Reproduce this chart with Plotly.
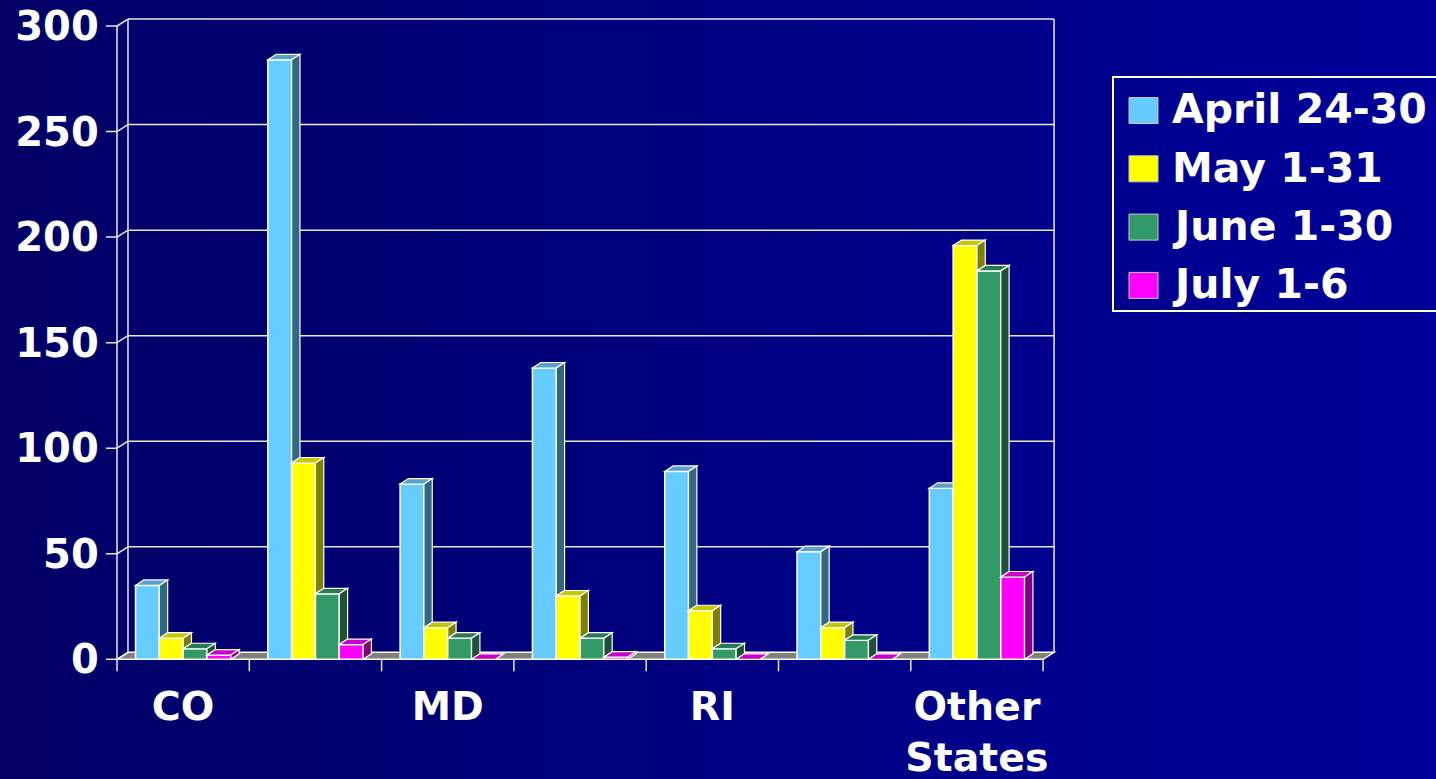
import plotly.graph_objects as go

# ---------------- data ----------------
categories = ["CO", "", "MD", "", "RI", "", "Other States"]
series_names = ["April 24-30", "May 1-31", "June 1-30", "July 1-6"]
april = [35, 284, 83, 138, 89, 51, 81]
may = [10, 93, 15, 30, 23, 15, 196]
june = [5, 31, 10, 10, 5, 9, 184]
july = [2, 7, 0, 1, 0, 0, 39]
y_ticks = [0, 50, 100, 150, 200, 250, 300]

# ---------------- style ----------------
front_colors = ["#66CCFF", "#FFFF00", "#339966", "#FF00FF"]
top_colors = ["#56A2CC", "#C8C800", "#2A7A55", "#C800C8"]
side_colors = ["#336680", "#808000", "#1C5236", "#800080"]
FONT = "DejaVu Sans"

W, H = 1436, 779
series = [april, may, june, july]
n_cat = len(categories)
n_ser = len(series)
x_pos = list(range(n_cat))
BARGAP = 0.28
bw = (1 - BARGAP) / n_ser
DX, DY = 0.063, 2.6      # bar depth (data units)
WX, WY = 0.083, 3.3      # wall / floor depth (data units)
XR = [-0.6, n_cat - 0.5 + 0.12]
YR = [-6.5, 304]
# pixel anchoring of the axes
px0, sx = 117.0, 132.3    # pixel of x=-0.5 and px per category
py0, sy = 659.3, 2.111    # pixel of y=0 and px per unit

xd = [(px0 + (XR[0] + 0.5) * sx) / W, (px0 + (XR[1] + 0.5) * sx) / W]
yd = [1 - (py0 - YR[0] * sy) / H, 1 - (py0 - YR[1] * sy) / H]

fig = go.Figure()
for j in range(n_ser):
    fig.add_trace(go.Bar(
        x=x_pos, y=series[j], name=series_names[j],
        marker=dict(color=front_colors[j], line=dict(color="white", width=1.5)),
        showlegend=False,
    ))

shapes = []
# background gradient
NS = 90
c0, c1 = (0, 0, 0x66), (0, 0, 0x9A)
for k in range(NS):
    t = k / (NS - 1)
    col = "rgb(%d,%d,%d)" % tuple(round(a + (b - a) * t) for a, b in zip(c0, c1))
    shapes.append(dict(type="rect", xref="paper", yref="paper", x0=k / NS, x1=(k + 1.05) / NS,
                       y0=0, y1=1, fillcolor=col, line=dict(width=0), layer="below"))

L, R = -0.5, n_cat - 0.5
ymax = y_ticks[-1]
wl = dict(color="#E8E8E8", width=1.5)
# floor
shapes.append(dict(type="path", xref="x", yref="y", layer="below",
                   path=f"M{L},0 L{L+WX},{WY} L{R+WX},{WY} L{R},0 Z",
                   fillcolor="#808080", line=dict(color="white", width=1.5)))
# back wall gridlines
for v in y_ticks[1:]:
    shapes.append(dict(type="line", xref="x", yref="y", layer="below",
                       x0=L + WX, x1=R + WX, y0=v + WY, y1=v + WY, line=wl))
# left wall
shapes.append(dict(type="line", xref="x", yref="y", layer="below",
                   x0=L, x1=L, y0=0, y1=ymax, line=wl))
shapes.append(dict(type="line", xref="x", yref="y", layer="below",
                   x0=L + WX, x1=L + WX, y0=WY, y1=ymax + WY, line=wl))
for v in y_ticks:
    shapes.append(dict(type="line", xref="x", yref="y", layer="below",
                       x0=L, x1=L + WX, y0=v, y1=v + WY, line=wl))
    shapes.append(dict(type="line", xref="x", yref="y", layer="below",
                       x0=L - 11 / sx, x1=L, y0=v, y1=v, line=wl))
# right back edge
shapes.append(dict(type="line", xref="x", yref="y", layer="below",
                   x0=R + WX, x1=R + WX, y0=WY, y1=ymax + WY, line=wl))
# x category boundary ticks
for b in range(n_cat + 1):
    xb = b - 0.5
    shapes.append(dict(type="line", xref="x", yref="y", layer="below",
                       x0=xb, x1=xb, y0=0, y1=-12 / sy, line=wl))

# 3-D faces of the bars
fl = dict(color="white", width=1.2)
for i in range(n_cat):
    for j in range(n_ser):
        v = series[j][i]
        vn = series[j + 1][i] if j < n_ser - 1 else 0
        xl = i - (1 - BARGAP) / 2 + j * bw
        xr = xl + bw
        if vn > v:
            top = f"M{xl},{v} L{xl+DX},{v+DY} L{xr},{v+DY} L{xr},{v} Z"
        else:
            top = f"M{xl},{v} L{xl+DX},{v+DY} L{xr+DX},{v+DY} L{xr},{v} Z"
        shapes.append(dict(type="path", xref="x", yref="y", layer="above", path=top,
                           fillcolor=top_colors[j], line=fl))
        b = vn
        if b < v:
            side = f"M{xr},{b} L{xr+DX},{b+DY} L{xr+DX},{v+DY} L{xr},{v} Z"
            shapes.append(dict(type="path", xref="x", yref="y", layer="above", path=side,
                               fillcolor=side_colors[j], line=fl))

# legend (box, swatches, labels)
annotations = []
shapes.append(dict(type="rect", xref="paper", yref="paper", x0=1113 / W, x1=1446 / W,
                   y0=1 - 311 / H, y1=1 - 77 / H, line=dict(color="white", width=2),
                   fillcolor="rgba(0,0,0,0)"))
for j in range(n_ser):
    cy = 110.5 + 58.3 * j
    shapes.append(dict(type="rect", xref="paper", yref="paper", x0=1129 / W, x1=1158 / W,
                       y0=1 - (cy + 13) / H, y1=1 - (cy - 13) / H,
                       fillcolor=front_colors[j], line=dict(color="#C8C8C8", width=1)))
    annotations.append(dict(xref="paper", yref="paper", x=1170 / W, y=1 - (cy - 1) / H,
                            xanchor="left", yanchor="middle", showarrow=False,
                            text=series_names[j],
                            font=dict(family=FONT, size=41, color="white", weight="bold")))

fig.update_layout(
    width=W, height=H,
    margin=dict(l=0, r=0, t=0, b=0),
    paper_bgcolor="#000080", plot_bgcolor="rgba(0,0,0,0)",
    barmode="group", bargap=BARGAP, bargroupgap=0,
    shapes=shapes, annotations=annotations, showlegend=False,
    xaxis=dict(domain=xd, range=XR, tickvals=x_pos,
               ticktext=[c.replace(" ", "<br>") for c in categories],
               showgrid=False, zeroline=False, showline=False, ticks="",
               tickfont=dict(family=FONT, size=39.5, color="white", weight="bold"),
               ticklabelstandoff=6, automargin=False),
    yaxis=dict(domain=yd, range=YR, tickvals=y_ticks, showgrid=False, zeroline=False,
               showline=False, ticks="", ticklabelstandoff=4,
               tickfont=dict(family=FONT, size=40, color="white", weight="bold"),
               automargin=False),
)

fig.write_html("out.html")
